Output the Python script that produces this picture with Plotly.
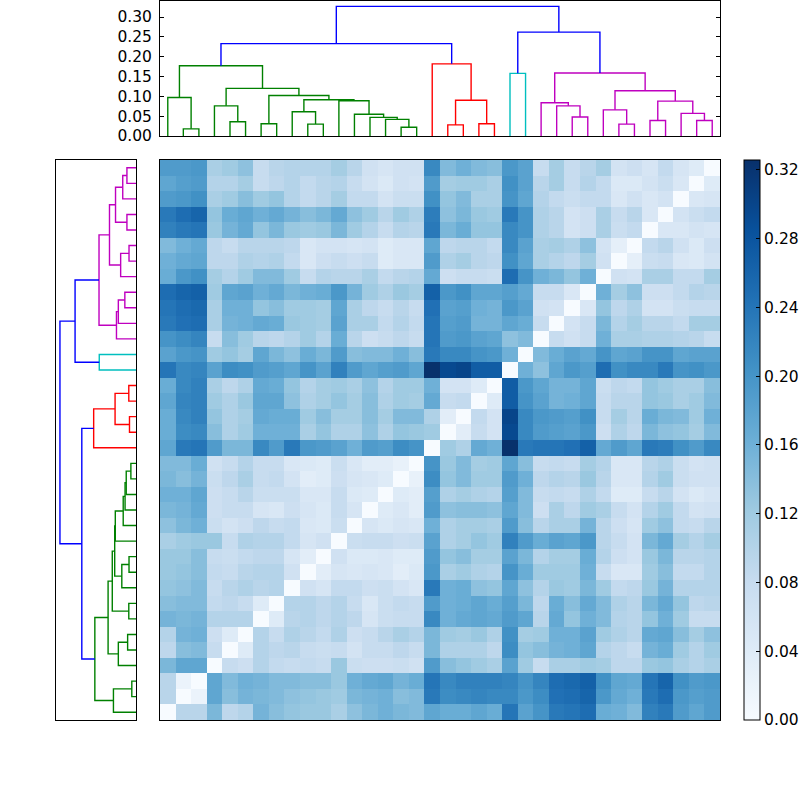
import plotly.graph_objects as go

# Clustered distance matrix with dendrograms on top and left
N_LEAVES = 36
VMAX = 0.3258

# Colours
BLUES = ['#f7fbff', '#deebf7', '#c6dbef', '#9ecae1', '#6baed6',
         '#4292c6', '#2171b5', '#08519c', '#08306b']
TREE_COLORS = {'g': '#008000', 'r': '#ff0000', 'c': '#00bfbf', 'm': '#bf00bf', 'b': '#0000ff'}

# Matrix rows from the top of the picture, left part up to the white diagonal.
# The part beyond the diagonal is the mirror image (distances are symmetric).
row_00 = [.19, .19, .195, .11, .12, .135, .08, .095, .10, .10, .10, .115, .095, .065, .055, .065, .065, .215, .145, .16, .145, .14, .195, .18, .08, .115, .08, .095, .115, .06, .07, .055, .085, .055, .04, 0]
row_01 = [.175, .185, .19, .10, .10, .115, .08, .09, .10, .085, .095, .10, .08, .06, .045, .065, .06, .19, .115, .12, .12, .11, .205, .18, .095, .115, .08, .10, .085, .045, .045, .06, .075, .05, 0]
row_02 = [.19, .195, .205, .11, .12, .14, .12, .13, .10, .085, .095, .115, .085, .085, .06, .075, .075, .205, .13, .145, .11, .11, .20, .175, .10, .085, .075, .085, .085, .05, .065, .05, .06, 0]
row_03 = [.235, .25, .26, .13, .165, .175, .16, .17, .155, .14, .15, .17, .135, .12, .095, .12, .105, .23, .135, .15, .125, .12, .235, .20, .105, .095, .06, .07, .11, .08, .095, .05, 0]
row_04 = [.225, .235, .24, .125, .155, .17, .13, .15, .125, .12, .125, .15, .12, .10, .08, .10, .095, .235, .15, .165, .13, .13, .215, .20, .105, .095, .06, .07, .11, .075, .085, 0]
row_05 = [.145, .16, .17, .09, .08, .095, .095, .095, .09, .05, .06, .06, .055, .06, .04, .05, .05, .175, .09, .095, .095, .085, .215, .18, .11, .115, .105, .135, .06, .03, 0]
row_06 = [.16, .17, .175, .09, .09, .105, .10, .105, .085, .05, .07, .08, .07, .08, .04, .05, .05, .19, .105, .115, .095, .09, .205, .175, .11, .10, .09, .115, .065, 0]
row_07 = [.165, .195, .205, .115, .10, .12, .145, .145, .12, .08, .10, .095, .095, .11, .085, .095, .10, .17, .07, .08, .08, .075, .25, .20, .16, .15, .13, .16, 0]
row_08 = [.25, .26, .265, .12, .175, .18, .16, .17, .15, .16, .165, .195, .155, .12, .105, .125, .115, .265, .195, .205, .175, .175, .185, .17, .08, .08, .05, 0]
row_09 = [.24, .25, .255, .11, .16, .16, .13, .14, .12, .12, .115, .175, .11, .09, .08, .095, .08, .245, .18, .185, .16, .155, .195, .18, .065, .06, 0]
row_10 = [.235, .245, .25, .11, .155, .16, .17, .165, .125, .12, .115, .18, .11, .11, .085, .10, .085, .24, .185, .19, .155, .155, .175, .165, .08, 0]
row_11 = [.20, .21, .22, .08, .14, .12, .095, .09, .10, .12, .10, .165, .095, .07, .08, .09, .08, .24, .19, .195, .18, .175, .135, .145, 0]
row_12 = [.18, .195, .20, .12, .13, .115, .175, .15, .135, .165, .15, .19, .14, .145, .145, .16, .14, .235, .215, .215, .20, .195, .16, 0]
row_13 = [.24, .215, .22, .18, .21, .205, .19, .185, .175, .20, .18, .225, .19, .175, .185, .19, .175, .325, .295, .30, .27, .27, 0]
row_14 = [.165, .215, .225, .11, .09, .105, .17, .165, .13, .10, .115, .12, .11, .135, .10, .12, .12, .16, .06, .06, .04, 0]
row_15 = [.175, .22, .225, .12, .105, .125, .175, .175, .135, .105, .115, .13, .115, .14, .105, .12, .115, .17, .08, .085, 0]
row_16 = [.165, .215, .225, .13, .105, .115, .17, .165, .165, .12, .14, .115, .115, .14, .115, .145, .145, .105, .035, 0]
row_17 = [.165, .21, .215, .14, .105, .12, .16, .16, .16, .11, .13, .105, .105, .135, .105, .13, .125, .12, 0]
row_18 = [.175, .235, .24, .19, .15, .15, .215, .19, .235, .195, .19, .18, .16, .19, .185, .21, .20, 0]
row_19 = [.145, .145, .165, .065, .08, .10, .08, .08, .05, .045, .04, .075, .05, .035, .035, .025, 0]
row_20 = [.15, .14, .155, .075, .09, .11, .08, .085, .06, .035, .04, .07, .055, .05, .04, 0]
row_21 = [.16, .16, .175, .07, .08, .095, .075, .075, .075, .05, .05, .08, .045, .04, 0]
row_22 = [.15, .155, .17, .07, .08, .08, .055, .05, .07, .055, .045, .08, .055, 0]
row_23 = [.135, .15, .16, .075, .06, .07, .09, .08, .085, .05, .045, .075, 0]
row_24 = [.11, .12, .125, .125, .08, .105, .10, .10, .085, .055, .065, 0]
row_25 = [.125, .125, .14, .08, .075, .085, .09, .09, .055, .035, 0]
row_26 = [.125, .13, .14, .085, .08, .095, .10, .10, .065, 0]
row_27 = [.13, .135, .145, .08, .095, .105, .095, .10, 0]
row_28 = [.14, .145, .145, .085, .09, .08, .04, 0]
row_29 = [.155, .15, .155, .10, .10, .10, 0]
row_30 = [.10, .155, .16, .07, .04, 0]
row_31 = [.09, .14, .145, .08, 0]
row_32 = [.15, .175, .175, 0]
row_33 = [.095, .02, 0]
row_34 = [.095, 0]
row_35 = [0]

rows = [row_00, row_01, row_02, row_03, row_04, row_05, row_06, row_07, row_08,
        row_09, row_10, row_11, row_12, row_13, row_14, row_15, row_16, row_17,
        row_18, row_19, row_20, row_21, row_22, row_23, row_24, row_25, row_26,
        row_27, row_28, row_29, row_30, row_31, row_32, row_33, row_34, row_35]

# Linkage: leaves are 0-35, each merge makes a new node numbered from 36
merge_left = [1, 0, 4, 3, 6, 9, 8, 15, 14, 13, 12, 11, 42, 40, 39, 37,
              18, 20, 52, 17, 51, 22, 26, 25, 24, 29, 28, 31, 34, 33, 63, 62, 60, 57, 56]
merge_right = [2, 36, 5, 38, 7, 10, 41, 16, 43, 44, 45, 46, 47, 48, 49, 50,
               19, 21, 53, 54, 55, 23, 27, 58, 59, 30, 61, 32, 35, 64, 65, 66, 67, 68, 69]
merge_height = [.018, .097, .036, .076, .031, .030, .061, .022, .042, .047, .055, .089,
                .0916, .102, .12, .177, .028, .031, .09, .182, .233, .158, .048, .076,
                .084, .030, .066, .039, .039, .057, .088, .114, .159, .262, .327]
merge_color = list('ggggggggggggggggrrrrbcmmmmmmmmmmmbb')
height_ticks = [0, .05, .10, .15, .20, .25, .30]


def full_matrix():
    """Fill in the right part of each row from the mirror across the diagonal."""
    z = []
    for t, row in enumerate(rows):
        z.append(list(row) + [rows[N_LEAVES - 1 - j][N_LEAVES - 1 - t]
                              for j in range(len(row), N_LEAVES)])
    return z


def tree_segments():
    """Return {colour: (position list, height list)} for the dendrogram lines."""
    pos = {k: 5 + 10 * k for k in range(N_LEAVES)}
    hgt = {k: 0 for k in range(N_LEAVES)}
    segs = {c: ([], []) for c in TREE_COLORS}
    for i, (a, b, h, c) in enumerate(zip(merge_left, merge_right, merge_height, merge_color)):
        node = N_LEAVES + i
        pos[node] = (pos[a] + pos[b]) / 2
        hgt[node] = h
        segs[c][0].extend([pos[a], pos[a], pos[b], pos[b], None])
        segs[c][1].extend([hgt[a], h, h, hgt[b], None])
    return segs


fig = go.Figure()

# Heatmap
fig.add_trace(go.Heatmap(
    z=full_matrix(),
    x=list(range(N_LEAVES)),
    y=list(range(N_LEAVES)),
    zmin=0, zmax=VMAX,
    colorscale=[[i / 8, c] for i, c in enumerate(BLUES)],
    xaxis='x', yaxis='y',
    hoverinfo='skip',
    colorbar=dict(
        x=744 / 800, xanchor='left', xpad=0,
        y=0.1, yanchor='bottom', ypad=0, len=0.7,
        thickness=16,
        tick0=0, dtick=0.04, tickformat='.2f',
        ticks='inside', ticklen=4, tickcolor='black', tickwidth=1,
        outlinecolor='black', outlinewidth=1,
        tickfont=dict(family='DejaVu Sans', size=15.5, color='black'),
    ),
))

# Dendrograms share the same tree
for color, (pos, hgt) in tree_segments().items():
    line = dict(color=TREE_COLORS[color], width=1.4)
    fig.add_trace(go.Scatter(x=pos, y=hgt, mode='lines', line=line, xaxis='x2', yaxis='y2',
                             hoverinfo='skip', showlegend=False))
    fig.add_trace(go.Scatter(x=hgt, y=pos, mode='lines', line=line, xaxis='x3', yaxis='y3',
                             hoverinfo='skip', showlegend=False))

frame = dict(showline=True, linecolor='black', linewidth=1, mirror=True,
             showgrid=False, zeroline=False)

fig.update_layout(
    width=800, height=800,
    margin=dict(l=0, r=0, t=0, b=0, autoexpand=False),
    paper_bgcolor='white',
    plot_bgcolor='white',
    showlegend=False,
    font=dict(family='DejaVu Sans', size=15.5, color='black'),
    # heatmap
    xaxis=dict(domain=[.2, .9], range=[-.5, N_LEAVES - .5], showticklabels=False, ticks='', **frame),
    yaxis=dict(domain=[.1, .8], range=[N_LEAVES - .5, -.5], showticklabels=False, ticks='', **frame),
    # top dendrogram
    xaxis2=dict(domain=[.2, .9], range=[0, 360], anchor='y2', showticklabels=False, ticks='', **frame),
    yaxis2=dict(domain=[.83, .999], range=[0, .341], anchor='x2',
                tickvals=height_ticks, tickformat='.2f',
                ticks='inside', ticklen=4, tickcolor='black', ticklabelstandoff=4,
                showline=True, linecolor='black', linewidth=1, mirror='ticks',
                showgrid=False, zeroline=False),
    # left dendrogram
    xaxis3=dict(domain=[.07, .17], range=[.344, 0], anchor='y3', showticklabels=False, ticks='', **frame),
    yaxis3=dict(domain=[.1, .8], range=[0, 360], anchor='x3', showticklabels=False, ticks='', **frame),
)

fig.write_html("out.html", config={'displayModeBar': False},
               post_script="document.body.style.margin='0'")
